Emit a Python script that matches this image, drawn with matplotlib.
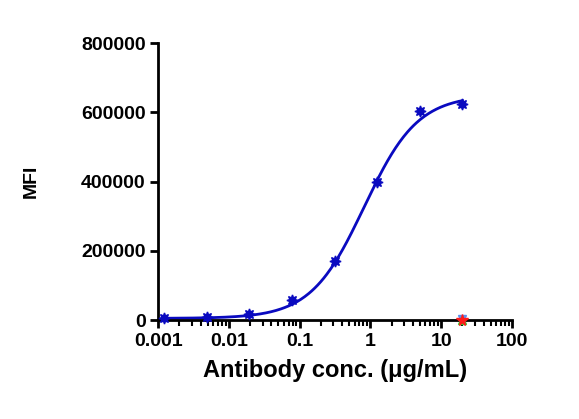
import numpy as np
import matplotlib
matplotlib.use('Agg')
import matplotlib.pyplot as plt
from matplotlib.ticker import LogLocator, FixedLocator, NullFormatter, FuncFormatter

plt.rcParams['font.family'] = ['Liberation Sans', 'DejaVu Sans']
plt.rcParams['font.weight'] = 'bold'

# antibody titration, 4-fold dilution from 20 ug/mL
conc = [0.00122, 0.00488, 0.0195, 0.078, 0.3125, 1.25, 5, 20]
mfi = [5000, 8000, 18000, 59000, 171000, 398000, 604000, 623000]

# isotype controls at the top concentration
ctrl_conc = [20, 20, 20]
ctrl_mfi = [4000, 0, 1500]
ctrl_colors = ['#5b8ff0', '#2fd02f', '#ff1a1a']
ctrl_markers = ['v', '^', '*']

# four-parameter logistic fit
bottom = 5000
top = 650000
ec50 = 0.82
hill = 1.15

blue = '#0a0ac0'

fig = plt.figure(figsize=(5.79, 4.19), dpi=100)
ax = fig.add_axes([0.273, 0.236, 0.611, 0.661])

xs = np.logspace(np.log10(conc[0]), np.log10(conc[-1]), 300)
fit = bottom + (top - bottom) / (1 + (ec50 / xs) ** hill)
ax.plot(xs, fit, color=blue, lw=2)
ax.plot(conc, mfi, ls='none', marker=(8, 1, 0), ms=8, color=blue, clip_on=False, zorder=4)

for x, y, c, m in zip(ctrl_conc, ctrl_mfi, ctrl_colors, ctrl_markers):
	s = 8.5 if m == '*' else 6
	ax.plot([x], [y], ls='none', marker=m, ms=s, color=c, clip_on=False, zorder=5)

ax.set_xscale('log')
ax.set_xlim(0.001, 100)
ax.set_ylim(0, 800000)
ax.yaxis.set_major_locator(FixedLocator([0, 200000, 400000, 600000, 800000]))
ax.xaxis.set_major_locator(LogLocator(base=10, numticks=10))
ax.xaxis.set_minor_locator(LogLocator(base=10, subs=np.arange(2, 10), numticks=10))
ax.xaxis.set_minor_formatter(NullFormatter())
ax.xaxis.set_major_formatter(FuncFormatter(lambda v, p: ('%g' % v)))

for s in ['top', 'right']:
	ax.spines[s].set_visible(False)
for s in ['left', 'bottom']:
	ax.spines[s].set_linewidth(2)

ax.tick_params(axis='both', which='major', direction='out', width=2, length=6, labelsize=14, pad=3)
ax.tick_params(axis='x', which='minor', direction='out', width=1.5, length=4)
for lab in ax.get_xticklabels() + ax.get_yticklabels():
	lab.set_fontweight('bold')

ax.set_xlabel('Antibody conc. (μg/mL)', fontsize=17, fontweight='bold', labelpad=7)
ax.set_ylabel('MFI', fontsize=14, fontweight='bold', labelpad=30)

fig.savefig('out.png', dpi=100)
